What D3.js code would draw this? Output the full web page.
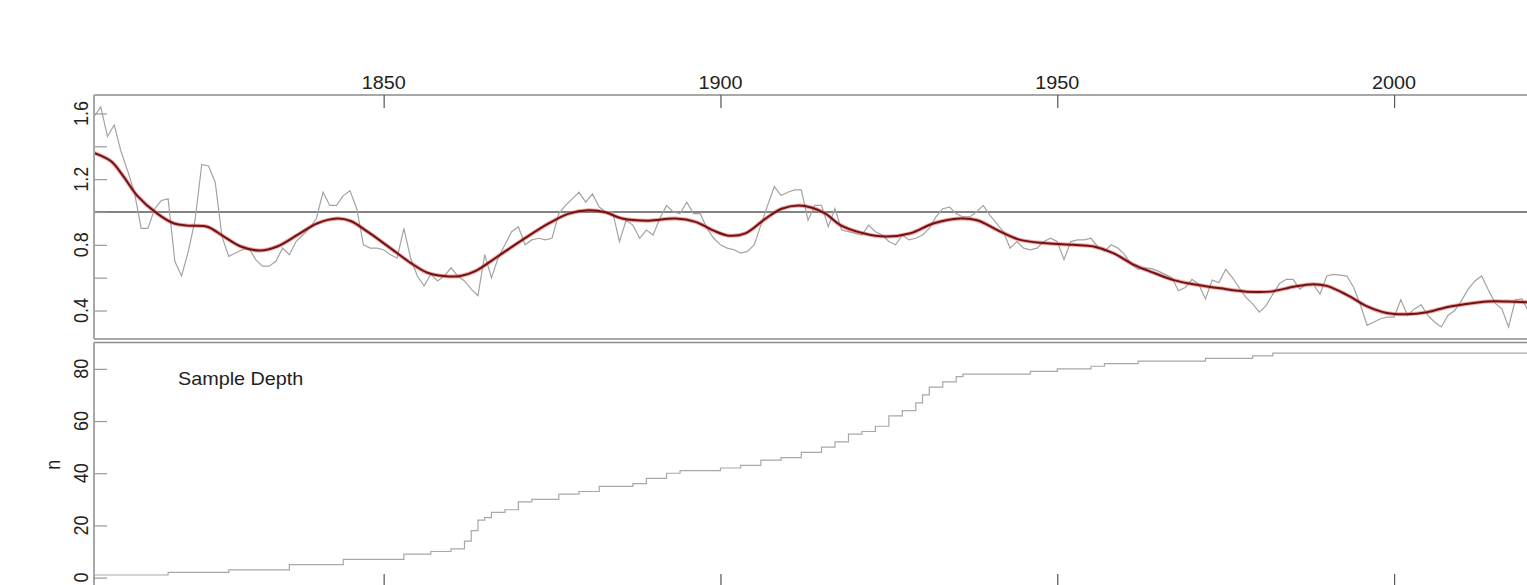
<!DOCTYPE html>
<html>
<head>
<meta charset="utf-8">
<script src="https://cdn.jsdelivr.net/npm/d3@7"></script>
<style>
  html, body { margin: 0; padding: 0; background: #fff; }
  svg { display: block; }
  text { font-family: "Liberation Sans", Arial, sans-serif; fill: #222; }
</style>
</head>
<body>
<svg id="chart" width="1527" height="585"></svg>
<script>
// Ring-width index chronology, one value per year starting at firstYear
const firstYear = 1807;
const rwi = [
  1.58, 1.64, 1.46,                                              // 1807-1809
  1.53, 1.37, 1.25, 1.12, 0.90, 0.90, 1.02, 1.07, 1.08, 0.70,    // 1810s
  0.61, 0.76, 0.95, 1.29, 1.28, 1.18, 0.85, 0.73, 0.75, 0.77,    // 1820s
  0.78, 0.71, 0.67, 0.67, 0.70, 0.78, 0.74, 0.82, 0.86, 0.90,    // 1830s
  0.96, 1.12, 1.04, 1.04, 1.10, 1.13, 1.02, 0.80, 0.78, 0.78,    // 1840s
  0.77, 0.74, 0.72, 0.90, 0.72, 0.61, 0.55, 0.62, 0.58, 0.61,    // 1850s
  0.66, 0.61, 0.58, 0.53, 0.49, 0.74, 0.60, 0.72, 0.80, 0.88,    // 1860s
  0.91, 0.80, 0.83, 0.84, 0.83, 0.84, 0.99, 1.04, 1.08, 1.12,    // 1870s
  1.06, 1.11, 1.03, 1.00, 1.00, 0.82, 0.95, 0.92, 0.84, 0.89,    // 1880s
  0.86, 0.96, 1.04, 1.00, 0.99, 1.06, 0.99, 0.99, 0.90, 0.84,    // 1890s
  0.80, 0.78, 0.77, 0.75, 0.76, 0.80, 0.92, 1.04, 1.155, 1.10,   // 1900s
  1.12, 1.135, 1.135, 0.95, 1.04, 1.04, 0.91, 1.02, 0.89, 0.88,  // 1910s
  0.87, 0.86, 0.92, 0.88, 0.86, 0.82, 0.80, 0.86, 0.83, 0.84,    // 1920s
  0.86, 0.90, 0.97, 1.02, 1.03, 0.99, 0.97, 0.97, 1.00, 1.04,    // 1930s
  0.98, 0.93, 0.88, 0.78, 0.82, 0.78, 0.77, 0.78, 0.82, 0.84,    // 1940s
  0.82, 0.71, 0.82, 0.83, 0.83, 0.84, 0.79, 0.76, 0.80, 0.78,    // 1950s
  0.74, 0.68, 0.65, 0.66, 0.655, 0.64, 0.62, 0.60, 0.52, 0.54,   // 1960s
  0.59, 0.56, 0.47, 0.585, 0.57, 0.65, 0.60, 0.54, 0.48, 0.44,   // 1970s
  0.39, 0.43, 0.50, 0.565, 0.59, 0.59, 0.53, 0.56, 0.56, 0.50,   // 1980s
  0.61, 0.62, 0.615, 0.61, 0.54, 0.435, 0.31, 0.33, 0.35, 0.36,  // 1990s
  0.36, 0.465, 0.37, 0.41, 0.435, 0.37, 0.33, 0.30, 0.37, 0.40,  // 2000s
  0.46, 0.53, 0.58, 0.61, 0.525, 0.445, 0.41, 0.30, 0.465, 0.47, // 2010s
  0.39                                                           // 2020
];

// Smoothing spline through the chronology
const splineYears = [1807, 1809.5, 1811.4, 1813.4, 1816.4, 1818.9, 1820.9, 1823.8, 1826.3, 1828.8,
  1831.7, 1834.2, 1837.2, 1840.1, 1843.1, 1845.1, 1847.6, 1851, 1854, 1856.5,
  1858.9, 1861.4, 1863.6, 1866.6, 1870.6, 1874.5, 1877.5, 1880.4, 1882.9, 1885.4,
  1889.3, 1893.3, 1896.3, 1898.8, 1901.2, 1903.7, 1906.7, 1909.1, 1911.6, 1913.6,
  1915.6, 1917.8, 1921.2, 1924.6, 1928.2, 1931.6, 1935.6, 1938.1, 1941.1, 1944.5,
  1948.4, 1952.4, 1955.4, 1958.3, 1961.3, 1964.3, 1967.3, 1970.2, 1974.2, 1978.1,
  1981.6, 1985.1, 1988, 1990, 1993, 1996, 1998.9, 2001.9, 2004.9, 2007.8,
  2010.8, 2013.8, 2016.8, 2020];
const splineValues = [1.36, 1.31, 1.215, 1.10, 0.99, 0.93, 0.917, 0.91, 0.85, 0.79,
  0.765, 0.79, 0.86, 0.93, 0.96, 0.945, 0.88, 0.78, 0.69, 0.63,
  0.61, 0.61, 0.64, 0.72, 0.83, 0.93, 0.99, 1.01, 0.998, 0.96,
  0.947, 0.96, 0.94, 0.89, 0.856, 0.87, 0.96, 1.02, 1.04, 1.026,
  0.99, 0.92, 0.87, 0.85, 0.87, 0.93, 0.96, 0.95, 0.89, 0.83,
  0.81, 0.80, 0.79, 0.75, 0.68, 0.63, 0.585, 0.56, 0.535, 0.515,
  0.515, 0.545, 0.56, 0.55, 0.495, 0.425, 0.385, 0.377, 0.39, 0.42,
  0.44, 0.455, 0.455, 0.45];

// Sample depth: year at which the number of series changes, and the new count
const depthYears = [1807, 1818, 1827, 1836, 1844, 1853, 1857, 1860, 1862, 1863,
  1864, 1865, 1866, 1868, 1870, 1872, 1876, 1879, 1882, 1887,
  1889, 1892, 1894, 1900, 1903, 1906, 1909, 1912, 1915, 1917,
  1919, 1921, 1923, 1925, 1927, 1929, 1930, 1931, 1933, 1935,
  1936, 1946, 1950, 1955, 1957, 1962, 1972, 1979, 1982, 2020];
const depthCounts = [1, 2, 3, 5, 7, 9, 10, 11, 14, 18,
  22, 23, 25, 26, 29, 30, 32, 33, 35, 36,
  38, 40, 41, 42, 43, 45, 46, 48, 50, 52,
  55, 56, 58, 62, 64, 67, 70, 73, 75, 77,
  78, 79, 80, 81, 82, 83, 84, 85, 86, 86];

const yearTicks = [1850, 1900, 1950, 2000];
const rwiTicks = [0.4, 0.6, 0.8, 1.0, 1.2, 1.4, 1.6];
const rwiLabels = [0.4, 0.8, 1.2, 1.6];
const depthTicks = [0, 20, 40, 60, 80];

const svg = d3.select("#chart");
svg.append("rect").attr("width", 1527).attr("height", 585).attr("fill", "#fff");

const x = d3.scaleLinear().domain([1807, 2020]).range([94, 1528.8]);
const yTop = d3.scaleLinear().domain([0.2265, 1.7125]).range([339, 95]);
const yBot = d3.scaleLinear().domain([-3.6, 90.1]).range([587, 342.5]);

const stretch = 1.1;
function label(g, px, py, txt, anchor, rotate) {
  g.append("g")
    .attr("transform", `translate(${px},${py}) scale(${stretch},1)` + (rotate ? " rotate(-90)" : ""))
    .append("text")
    .attr("text-anchor", anchor)
    .attr("font-size", 18)
    .text(txt);
}

// ---------- upper panel: chronology ----------
const panelTop = svg.append("g");
panelTop.append("clipPath").attr("id", "clipTop")
  .append("rect").attr("x", 94).attr("y", 95).attr("width", 1440).attr("height", 244);

const plotTop = panelTop.append("g").attr("clip-path", "url(#clipTop)");

// reference line at index 1
plotTop.append("line")
  .attr("x1", x(1807)).attr("x2", x(2020))
  .attr("y1", yTop(1)).attr("y2", yTop(1))
  .attr("stroke", "#5a5a5a").attr("stroke-width", 1.6);

const rwiLine = d3.line()
  .x((d, i) => x(firstYear + i))
  .y(d => yTop(d));
plotTop.append("path").datum(rwi)
  .attr("d", rwiLine)
  .attr("fill", "none").attr("stroke", "#a3a3a3").attr("stroke-width", 1.2);

const splineLine = d3.line()
  .x((d, i) => x(splineYears[i]))
  .y(d => yTop(d))
  .curve(d3.curveCatmullRom.alpha(0.5));
plotTop.append("path").datum(splineValues)
  .attr("d", splineLine)
  .attr("fill", "none").attr("stroke", "#e45a5a").attr("stroke-width", 4).attr("stroke-opacity", 0.55);
plotTop.append("path").datum(splineValues)
  .attr("d", splineLine)
  .attr("fill", "none").attr("stroke", "#6e1414").attr("stroke-width", 2);

// frame of upper panel
panelTop.append("line").attr("x1", 94).attr("x2", 1527).attr("y1", 95).attr("y2", 95)
  .attr("stroke", "#a8a8a8").attr("stroke-width", 2.2);
panelTop.append("line").attr("x1", 94).attr("x2", 1527).attr("y1", 339).attr("y2", 339)
  .attr("stroke", "#8c8c8c").attr("stroke-width", 1.6);
panelTop.append("line").attr("x1", 94).attr("x2", 94).attr("y1", 95).attr("y2", 339)
  .attr("stroke", "#a8a8a8").attr("stroke-width", 2);

// year axis on top, ticks pointing inward
const xAxisTop = d3.axisTop(x).tickValues(yearTicks).tickSize(-13).tickFormat("").tickSizeOuter(0);
const gxt = panelTop.append("g").attr("transform", "translate(0,95)").call(xAxisTop);
gxt.select(".domain").remove();
gxt.selectAll(".tick line").attr("stroke", "#555").attr("stroke-width", 1.2);
yearTicks.forEach(t => label(panelTop, x(t), 89, String(t), "middle", false));

// index axis
const yAxisTop = d3.axisLeft(yTop).tickValues(rwiTicks).tickSize(-13).tickFormat("");
const gyt = panelTop.append("g").attr("transform", "translate(94,0)").call(yAxisTop);
gyt.select(".domain").remove();
gyt.selectAll(".tick line").attr("stroke", "#999").attr("stroke-width", 1.2);
rwiLabels.forEach(t => label(panelTop, 88, yTop(t), d3.format(".1f")(t), "middle", true));

// ---------- lower panel: sample depth ----------
const panelBot = svg.append("g");
panelBot.append("line").attr("x1", 94).attr("x2", 1527).attr("y1", 342.5).attr("y2", 342.5)
  .attr("stroke", "#8c8c8c").attr("stroke-width", 1.6);
panelBot.append("line").attr("x1", 94).attr("x2", 94).attr("y1", 342.5).attr("y2", 587)
  .attr("stroke", "#a8a8a8").attr("stroke-width", 2);
panelBot.append("line").attr("x1", 94).attr("x2", 1527).attr("y1", 587).attr("y2", 587)
  .attr("stroke", "#a8a8a8").attr("stroke-width", 2);

const depthLine = d3.line()
  .x((d, i) => x(depthYears[i]))
  .y(d => yBot(d))
  .curve(d3.curveStepAfter);
panelBot.append("path").datum(depthCounts)
  .attr("d", depthLine)
  .attr("fill", "none").attr("stroke", "#a8a8a8").attr("stroke-width", 1.2);

const xAxisBot = d3.axisBottom(x).tickValues(yearTicks).tickSize(-13).tickFormat("").tickSizeOuter(0);
const gxb = panelBot.append("g").attr("transform", "translate(0,587)").call(xAxisBot);
gxb.select(".domain").remove();
gxb.selectAll(".tick line").attr("stroke", "#555").attr("stroke-width", 1.2);

const yAxisBot = d3.axisLeft(yBot).tickValues(depthTicks).tickSize(-13).tickFormat("");
const gyb = panelBot.append("g").attr("transform", "translate(94,0)").call(yAxisBot);
gyb.select(".domain").remove();
gyb.selectAll(".tick line").attr("stroke", "#999").attr("stroke-width", 1.2);
depthTicks.forEach(t => label(panelBot, 88, yBot(t), String(t), "middle", true));

label(panelBot, 60, (342.5 + 587) / 2, "n", "middle", true);
label(panelBot, 178, 385, "Sample Depth", "start", false);
</script>
</body>
</html>
